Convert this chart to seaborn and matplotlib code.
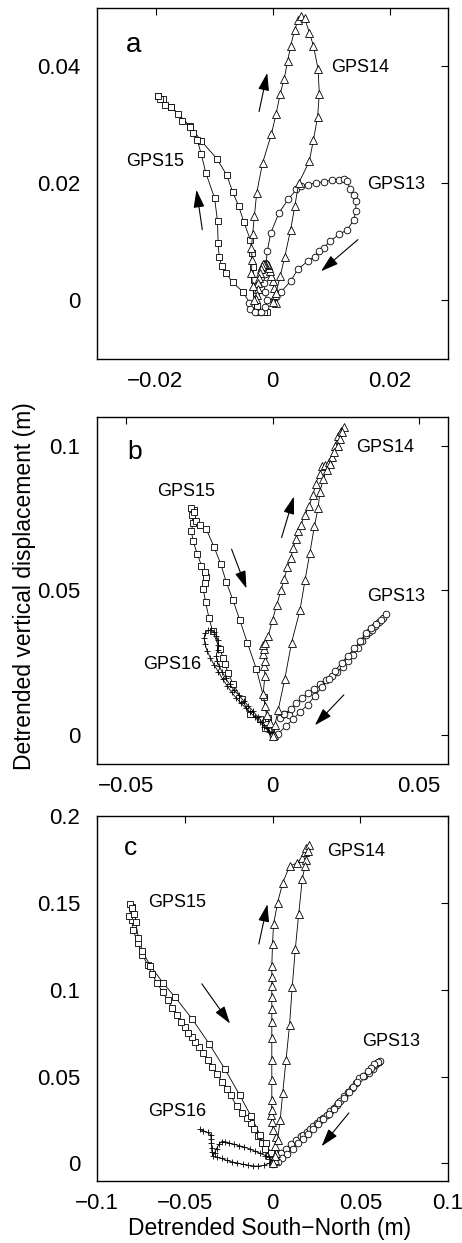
import numpy as np
import pandas as pd
import seaborn as sns
import matplotlib
matplotlib.use("Agg")
import matplotlib.pyplot as plt

sns.set_theme(style="white")
plt.rcParams['font.family'] = ['Liberation Sans', 'DejaVu Sans']
plt.rcParams['axes.unicode_minus'] = True
plt.rcParams['text.color'] = 'black'
plt.rcParams['axes.labelcolor'] = 'black'
plt.rcParams['xtick.color'] = 'black'
plt.rcParams['ytick.color'] = 'black'

# ---------------- Panel a data (South-North, vertical) ----------------
a_gps15_x = [-0.0196, -0.0188, -0.0173, -0.0141, -0.0122, -0.0095, -0.0078, -0.0068, -0.0058, -0.0049,
             -0.0038, -0.0035, -0.0034, -0.0031, -0.0028, -0.0026, -0.0017, -0.0009, -0.0014, -0.0023,
             -0.0037, -0.0051, -0.0068, -0.0080, -0.0087, -0.0091, -0.0093, -0.0094, -0.0099, -0.0114,
             -0.0122, -0.0129, -0.0136, -0.0141, -0.0155, -0.0161, -0.0173, -0.0184, -0.0193, -0.0196]
a_gps15_y = [0.0349, 0.0344, 0.0331, 0.0298, 0.0273, 0.0242, 0.0214, 0.0185, 0.0162, 0.0134,
             0.0104, 0.0081, 0.0058, 0.0035, 0.0013, -0.0010, -0.0019, -0.0019, -0.0020, -0.0019,
             -0.0007, 0.0015, 0.0031, 0.0047, 0.0059, 0.0074, 0.0098, 0.0135, 0.0175, 0.0218,
             0.0251, 0.0275, 0.0287, 0.0297, 0.0307, 0.0318, 0.0330, 0.0334, 0.0345, 0.0349]

a_gps14_x = [0.0006, 0.0004, 0.0002, 0.0000, -0.0002, -0.0004, -0.0006, -0.0008, -0.0010, -0.0012,
             -0.0014, -0.0016, -0.0018, -0.0020, -0.0022, -0.0023, -0.0024, -0.0025, -0.0026, -0.0028,
             -0.0031, -0.0034, -0.0036, -0.0035, -0.0036, -0.0034, -0.0031, -0.0027, -0.0017, -0.0002,
             0.0006, 0.0013, 0.0020, 0.0026, 0.0031, 0.0038, 0.0044, 0.0048,
             0.0055, 0.0063, 0.0070, 0.0078, 0.0080, 0.0077, 0.0070, 0.0063, 0.0045, 0.0038,
             0.0031, 0.0021, 0.0013, 0.0006, 0.0000]
a_gps14_y = [-0.0004, 0.0010, 0.0022, 0.0033, 0.0042, 0.0050, 0.0056, 0.0060, 0.0062, 0.0063,
             0.0063, 0.0062, 0.0059, 0.0054, 0.0047, 0.0039, 0.0030, 0.0020, 0.0010, 0.0003,
             0.0001, 0.0024, 0.0047, 0.0070, 0.0090, 0.0113, 0.0144, 0.0184, 0.0235, 0.0284,
             0.0318, 0.0353, 0.0379, 0.0410, 0.0435, 0.0463, 0.0480, 0.0487,
             0.0482, 0.0458, 0.0435, 0.0395, 0.0353, 0.0313, 0.0275, 0.0238, 0.0201, 0.0161,
             0.0121, 0.0075, 0.0041, 0.0013, -0.0002]

a_gps13_x = [-0.0040, -0.0038, -0.0030, -0.0020, -0.0012, -0.0010, -0.0013, -0.0015, -0.0013, -0.0011,
             -0.0009, -0.0003, 0.0011, 0.0027, 0.0041, 0.0048, 0.0060, 0.0074, 0.0088, 0.0102,
             0.0113, 0.0123, 0.0128, 0.0132, 0.0139, 0.0143, 0.0142, 0.0139, 0.0128, 0.0114,
             0.0098, 0.0088, 0.0080, 0.0072, 0.0060, 0.0043, 0.0031, 0.0014, 0.0003]
a_gps13_y = [-0.0005, -0.0015, -0.0020, -0.0019, -0.0012, 0.0000, 0.0015, 0.0030, 0.0045, 0.0062,
             0.0084, 0.0115, 0.0150, 0.0173, 0.0190, 0.0195, 0.0198, 0.0201, 0.0203, 0.0206,
             0.0206, 0.0207, 0.0204, 0.0191, 0.0181, 0.0170, 0.0153, 0.0138, 0.0121, 0.0113,
             0.0101, 0.0090, 0.0084, 0.0075, 0.0067, 0.0053, 0.0033, 0.0014, 0.0001]

# ---------------- Panel b data ----------------
b_gps15_x = [0.0002, -0.0026, -0.0043, -0.0078, -0.0106, -0.0135, -0.0152, -0.0163, -0.0169, -0.0180,
             -0.0205, -0.0217, -0.0229, -0.0237, -0.0232, -0.0229, -0.0232, -0.0243, -0.0257, -0.0272,
             -0.0277, -0.0272, -0.0275, -0.0268, -0.0280,
             -0.0270, -0.0262, -0.0249, -0.0226, -0.0200, -0.0177, -0.0158, -0.0135, -0.0112, -0.0086,
             -0.0055, -0.0030, -0.0015, -0.0005, 0.0000]
b_gps15_y = [0.0000, 0.0023, 0.0057, 0.0074, 0.0125, 0.0177, 0.0216, 0.0245, 0.0268, 0.0296,
             0.0360, 0.0404, 0.0461, 0.0506, 0.0526, 0.0546, 0.0563, 0.0586, 0.0626, 0.0671,
             0.0705, 0.0735, 0.0760, 0.0779, 0.0787,
             0.0770, 0.0740, 0.0728, 0.0711, 0.0651, 0.0592, 0.0529, 0.0466, 0.0398, 0.0319,
             0.0228, 0.0130, 0.0060, 0.0020, -0.0005]

b_gps16_x = [0.0005, -0.0012, -0.0028, -0.0044, -0.0060, -0.0076, -0.0092, -0.0108, -0.0124, -0.0140,
             -0.0155, -0.0170, -0.0185, -0.0200, -0.0213, -0.0224, -0.0231, -0.0234, -0.0230, -0.0221,
             -0.0210, -0.0200, -0.0192, -0.0187, -0.0186, -0.0188, -0.0192, -0.0190, -0.0182, -0.0172,
             -0.0160, -0.0146, -0.0131, -0.0115, -0.0099, -0.0083, -0.0067, -0.0051, -0.0035, -0.0019,
             -0.0005]
b_gps16_y = [-0.0003, 0.0012, 0.0028, 0.0045, 0.0062, 0.0078, 0.0094, 0.0110, 0.0128, 0.0148,
             0.0170, 0.0193, 0.0218, 0.0243, 0.0268, 0.0292, 0.0315, 0.0336, 0.0352, 0.0362,
             0.0363, 0.0356, 0.0344, 0.0328, 0.0311, 0.0293, 0.0275, 0.0257, 0.0238, 0.0218,
             0.0196, 0.0175, 0.0155, 0.0137, 0.0119, 0.0101, 0.0083, 0.0064, 0.0045, 0.0025,
             0.0008]

b_gps13_x = [0.0025, 0.0040, 0.0055, 0.0040, 0.0062, 0.0082, 0.0102, 0.0122, 0.0142, 0.0162,
             0.0182, 0.0202, 0.0222, 0.0240, 0.0258, 0.0275, 0.0292, 0.0305, 0.0318, 0.0330,
             0.0340, 0.0352, 0.0365, 0.0378, 0.0388,
             0.0372, 0.0355, 0.0337, 0.0320, 0.0300, 0.0280, 0.0258, 0.0236, 0.0214, 0.0192,
             0.0168, 0.0145, 0.0120, 0.0095, 0.0070, 0.0045, 0.0020, 0.0000]
b_gps13_y = [0.0060, 0.0074, 0.0068, 0.0072, 0.0090, 0.0110, 0.0128, 0.0145, 0.0160, 0.0176,
             0.0192, 0.0205, 0.0218, 0.0235, 0.0255, 0.0278, 0.0300, 0.0325, 0.0345, 0.0358,
             0.0365, 0.0378, 0.0392, 0.0405, 0.0420,
             0.0398, 0.0383, 0.0370, 0.0352, 0.0325, 0.0300, 0.0275, 0.0250, 0.0222, 0.0195,
             0.0165, 0.0135, 0.0105, 0.0080, 0.0055, 0.0030, 0.0005, -0.0005]

b_gps14_x = [0.0005, -0.0010, -0.0020, -0.0026, -0.0032, -0.0026, -0.0028, -0.0026, -0.0032, -0.0030,
             -0.0032, -0.0024, -0.0015, 0.0000, 0.0014, 0.0029, 0.0040, 0.0051, 0.0063, 0.0071,
             0.0079, 0.0088, 0.0097, 0.0111, 0.0124, 0.0139, 0.0147, 0.0162, 0.0170, 0.0179,
             0.0193, 0.0204, 0.0213, 0.0225, 0.0234, 0.0245,
             0.0239, 0.0231, 0.0223, 0.0211, 0.0196, 0.0185, 0.0174, 0.0162, 0.0156, 0.0143,
             0.0128, 0.0111, 0.0094, 0.0065, 0.0042, 0.0019, 0.0008, 0.0000]
b_gps14_y = [0.0000, 0.0040, 0.0068, 0.0102, 0.0142, 0.0205, 0.0240, 0.0256, 0.0279, 0.0296,
             0.0313, 0.0319, 0.0341, 0.0398, 0.0449, 0.0501, 0.0540, 0.0580, 0.0614, 0.0648,
             0.0677, 0.0705, 0.0728, 0.0762, 0.0791, 0.0830, 0.0870, 0.0904, 0.0931, 0.0935,
             0.0944, 0.0961, 0.1001, 0.1035, 0.1052, 0.1067,
             0.1047, 0.1024, 0.1001, 0.0978, 0.0939, 0.0916, 0.0887, 0.0842, 0.0785, 0.0722,
             0.0631, 0.0535, 0.0432, 0.0319, 0.0194, 0.0085, 0.0035, -0.0005]

# ---------------- Panel c data ----------------
c_gps15_x = [0.0000, -0.0020, -0.0040, -0.0060, -0.0080, -0.0105, -0.0125, -0.0145, -0.0175, -0.0203,
             -0.0238, -0.0260, -0.0290, -0.0315, -0.0342, -0.0370, -0.0397, -0.0420, -0.0439, -0.0460,
             -0.0480, -0.0500, -0.0522, -0.0545, -0.0571, -0.0598, -0.0625, -0.0660, -0.0687, -0.0710,
             -0.0741, -0.0768, -0.0793, -0.0803, -0.0816, -0.0803, -0.0813,
             -0.0800, -0.0787, -0.0780, -0.0764, -0.0741, -0.0696, -0.0625, -0.0555, -0.0459, -0.0362,
             -0.0271, -0.0188, -0.0122, -0.0072, -0.0039, -0.0010, 0.0000]
c_gps15_y = [0.0020, 0.0040, 0.0080, 0.0120, 0.0160, 0.0200, 0.0230, 0.0260, 0.0290, 0.0328,
             0.0391, 0.0430, 0.0471, 0.0515, 0.0557, 0.0598, 0.0637, 0.0668, 0.0696, 0.0726,
             0.0753, 0.0785, 0.0814, 0.0855, 0.0896, 0.0940, 0.0986, 0.1040, 0.1091, 0.1140,
             0.1201, 0.1268, 0.1342, 0.1400, 0.1424, 0.1476, 0.1495,
             0.1470, 0.1438, 0.1390, 0.1297, 0.1220, 0.1138, 0.1040, 0.0957, 0.0833, 0.0690,
             0.0542, 0.0395, 0.0271, 0.0166, 0.0118, 0.0060, 0.0000]

c_gps16_x = [-0.0416, -0.0395, -0.0370, -0.0352, -0.0350, -0.0349, -0.0347, -0.0345, -0.0340, -0.0330,
             -0.0319, -0.0305, -0.0290, -0.0270, -0.0250, -0.0220, -0.0190, -0.0160, -0.0130, -0.0100,
             -0.0070, -0.0040, -0.0020, 0.0000,
             -0.0020, -0.0050, -0.0080, -0.0110, -0.0140, -0.0170, -0.0200, -0.0230, -0.0260, -0.0290,
             -0.0319]
c_gps16_y = [0.0195, 0.0188, 0.0178, 0.0165, 0.0140, 0.0115, 0.0090, 0.0065, 0.0042, 0.0060,
             0.0085, 0.0110, 0.0125, 0.0125, 0.0118, 0.0110, 0.0102, 0.0093, 0.0083, 0.0070,
             0.0058, 0.0045, 0.0035, 0.0020,
             0.0000, -0.0012, -0.0016, -0.0015, -0.0010, -0.0005, 0.0002, 0.0008, 0.0017, 0.0028,
             0.0036]

c_gps13_x = [0.0030, 0.0050, 0.0077, 0.0106, 0.0135, 0.0160, 0.0174, 0.0195, 0.0213, 0.0232,
             0.0252, 0.0270, 0.0290, 0.0310, 0.0329, 0.0348, 0.0368, 0.0387, 0.0406, 0.0430,
             0.0455, 0.0475, 0.0493, 0.0520, 0.0551, 0.0570, 0.0585, 0.0598, 0.0609, 0.0615,
             0.0600, 0.0580, 0.0560, 0.0542, 0.0513, 0.0484, 0.0460, 0.0435, 0.0405, 0.0375,
             0.0348, 0.0320, 0.0290, 0.0262, 0.0232, 0.0205, 0.0175, 0.0145, 0.0115, 0.0085,
             0.0055, 0.0030, 0.0005]
c_gps13_y = [0.0045, 0.0060, 0.0080, 0.0109, 0.0137, 0.0155, 0.0166, 0.0180, 0.0195, 0.0215,
             0.0233, 0.0248, 0.0261, 0.0280, 0.0299, 0.0318, 0.0338, 0.0360, 0.0385, 0.0410,
             0.0433, 0.0462, 0.0490, 0.0505, 0.0519, 0.0545, 0.0565, 0.0578, 0.0585, 0.0590,
             0.0582, 0.0570, 0.0550, 0.0530, 0.0505, 0.0471, 0.0440, 0.0410, 0.0375, 0.0345,
             0.0315, 0.0285, 0.0255, 0.0228, 0.0200, 0.0170, 0.0140, 0.0115, 0.0085, 0.0055,
             0.0030, 0.0010, -0.0005]

c_gps14_x = [0.0015, 0.0020, 0.0015, 0.0020, 0.0005, -0.0005, -0.0010, -0.0005, -0.0004, -0.0004,
             -0.0004, -0.0004, -0.0004, -0.0004, -0.0004, -0.0004, -0.0004, -0.0004, 0.0000, 0.0006,
             0.0029, 0.0058, 0.0097, 0.0140, 0.0168, 0.0184, 0.0193, 0.0207,
             0.0200, 0.0193, 0.0185, 0.0170, 0.0149, 0.0130, 0.0112, 0.0097, 0.0077, 0.0058,
             0.0044, 0.0029, 0.0014, 0.0000]
c_gps14_y = [0.0020, 0.0060, 0.0100, 0.0150, 0.0190, 0.0240, 0.0280, 0.0309, 0.0366, 0.0481,
             0.0595, 0.0719, 0.0814, 0.0891, 0.0957, 0.1024, 0.1072, 0.1138, 0.1262, 0.1377,
             0.1501, 0.1615, 0.1711, 0.1730, 0.1760, 0.1790, 0.1815, 0.1834,
             0.1800, 0.1749, 0.1711, 0.1640, 0.1434, 0.1234, 0.1014, 0.0795, 0.0595, 0.0404,
             0.0252, 0.0137, 0.0042, 0.0000]

# ---------------- Labels / ticks / annotations ----------------
panel_letters = ['a', 'b', 'c']
xlims = [(-0.03, 0.03), (-0.06, 0.06), (-0.1, 0.1)]
ylims = [(-0.01, 0.05), (-0.01, 0.11), (-0.01, 0.2)]
xticks = [[-0.02, 0, 0.02], [-0.05, 0, 0.05], [-0.1, -0.05, 0, 0.05, 0.1]]
xticklabels = [['\u22120.02', '0', '0.02'], ['\u22120.05', '0', '0.05'],
               ['\u22120.1', '\u22120.05', '0', '0.05', '0.1']]
yticks = [[0, 0.02, 0.04], [0, 0.05, 0.1], [0, 0.05, 0.1, 0.15, 0.2]]
yticklabels = [['0', '0.02', '0.04'], ['0', '0.05', '0.1'], ['0', '0.05', '0.1', '0.15', '0.2']]

letter_pos = [(-0.0251, 0.0437), (-0.0497, 0.0978), (-0.0845, 0.1816)]
station_labels = [
    [('GPS14', 0.0101, 0.0398), ('GPS13', 0.0162, 0.0198), ('GPS15', -0.0250, 0.0237)],
    [('GPS14', 0.0285, 0.0996), ('GPS15', -0.0395, 0.0842), ('GPS13', 0.0325, 0.0478),
     ('GPS16', -0.0443, 0.0245)],
    [('GPS14', 0.0310, 0.1797), ('GPS15', -0.0706, 0.1500), ('GPS13', 0.0512, 0.0700),
     ('GPS16', -0.0706, 0.0300)],
]
# arrows: (tail_x, tail_y, head_x, head_y)
arrows = [
    [(-0.0023, 0.0323, -0.0009, 0.0389), (-0.0120, 0.0121, -0.0130, 0.0189),
     (0.0146, 0.0104, 0.0083, 0.0050)],
    [(-0.0140, 0.0643, -0.0089, 0.0507), (0.0031, 0.0683, 0.0073, 0.0825),
     (0.0244, 0.0139, 0.0145, 0.0034)],
    [(-0.0078, 0.1263, -0.0029, 0.1492), (-0.0403, 0.1034, -0.0242, 0.0805),
     (0.0435, 0.0290, 0.0280, 0.0099)],
]

series = [
    [(a_gps15_x, a_gps15_y, 's'), (a_gps13_x, a_gps13_y, 'o'), (a_gps14_x, a_gps14_y, '^')],
    [(b_gps15_x, b_gps15_y, 's'), (b_gps16_x, b_gps16_y, '+'), (b_gps13_x, b_gps13_y, 'o'),
     (b_gps14_x, b_gps14_y, '^')],
    [(c_gps15_x, c_gps15_y, 's'), (c_gps16_x, c_gps16_y, '+'), (c_gps13_x, c_gps13_y, 'o'),
     (c_gps14_x, c_gps14_y, '^')],
]
msizes = {'s': 4.3, 'o': 4.8, '^': 5.6, '+': 5.0}

fig = plt.figure(figsize=(4.62, 12.43), dpi=100)
rects = [
    [0.2100, 0.7112, 0.7597, 0.2824],
    [0.2100, 0.3854, 0.7597, 0.2791],
    [0.2100, 0.0501, 0.7597, 0.2934],
]

for i in range(3):
    ax = fig.add_axes(rects[i])
    for (xs, ys, mk) in series[i]:
        df = pd.DataFrame({'x': xs, 'y': ys})
        sns.lineplot(data=df, x='x', y='y', sort=False, estimator=None, ax=ax,
                     color='black', linewidth=0.6, marker=mk, markersize=msizes[mk],
                     markerfacecolor='white' if mk != '+' else 'black',
                     markeredgecolor='black', markeredgewidth=0.6)
    ax.set_xlim(*xlims[i])
    ax.set_ylim(*ylims[i])
    ax.set_xticks(xticks[i])
    ax.set_xticklabels(xticklabels[i])
    ax.set_yticks(yticks[i])
    ax.set_yticklabels(yticklabels[i])
    ax.set_xlabel('')
    ax.set_ylabel('')
    ax.tick_params(axis='both', direction='in', length=5, width=0.8, colors='black',
                   top=True, right=True, labelsize=16)
    ax.tick_params(axis='x', pad=9)
    ax.tick_params(axis='y', pad=12)
    for sp in ax.spines.values():
        sp.set_visible(True)
        sp.set_color('black')
        sp.set_linewidth(1.0)
    ax.grid(False)
    lx, ly = letter_pos[i]
    ax.text(lx, ly, panel_letters[i], fontsize=20 if i == 0 else 19, ha='left', va='center',
            color='black')
    for (lab, tx, ty) in station_labels[i]:
        ax.text(tx, ty, lab, fontsize=13, ha='left', va='center', color='black')
    for (x0, y0, x1, y1) in arrows[i]:
        ax.annotate('', xy=(x1, y1), xytext=(x0, y0),
                    arrowprops=dict(arrowstyle='-|>,head_length=0.9,head_width=0.28',
                                    color='black', lw=0.8, shrinkA=0, shrinkB=0))

fig.text(0.054, 0.5286, 'Detrended vertical displacement (m)', rotation=90,
         ha='center', va='center', fontsize=16.5, color='black')
fig.text(0.583, 0.0115, 'Detrended South\u2212North (m)', ha='center', va='center',
         fontsize=16.5, color='black')

fig.savefig('out.png', dpi=100)
